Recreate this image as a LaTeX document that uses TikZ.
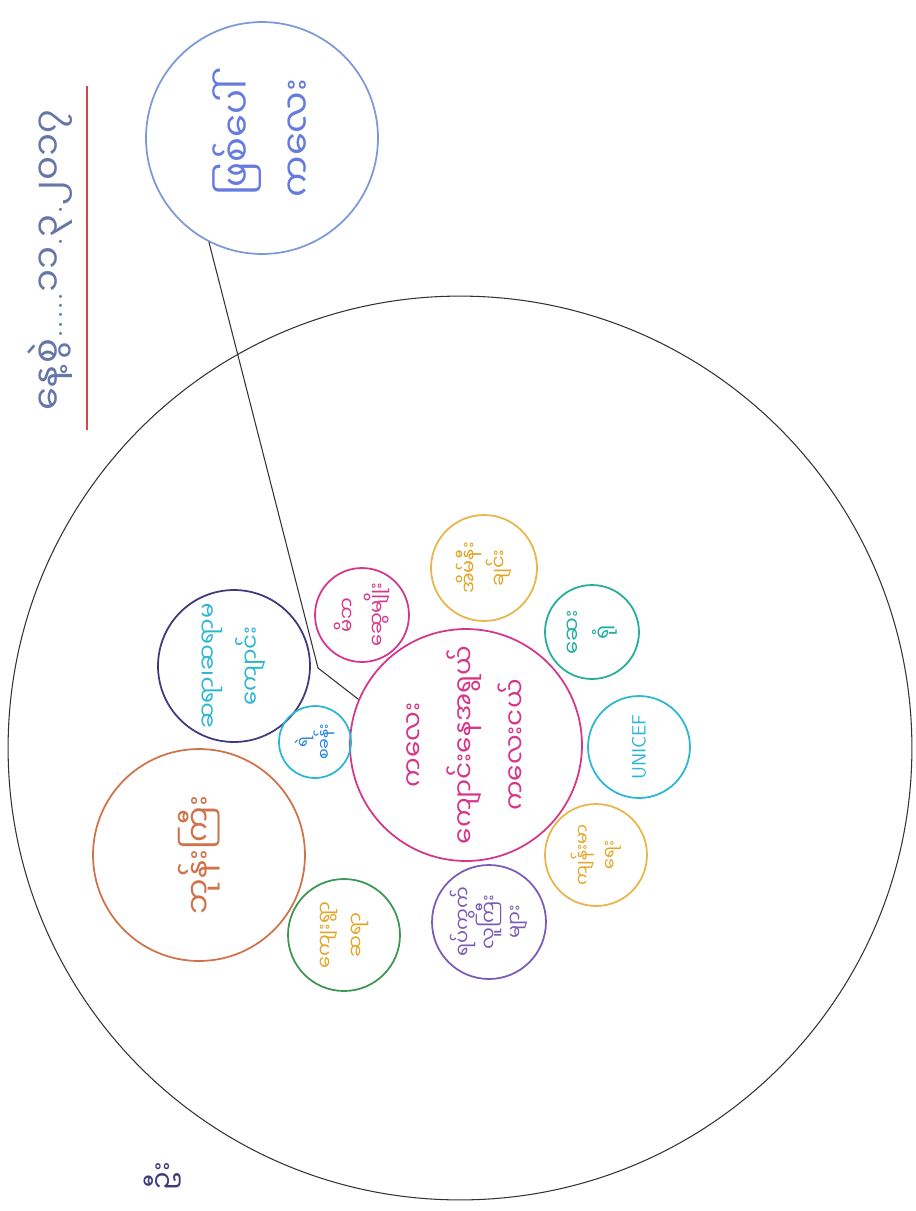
\documentclass[tikz,border=0pt]{standalone}
\usepackage{fontspec}
\newfontfamily\mm[Script=Myanmar]{Noto Sans Myanmar UI}
\usetikzlibrary{positioning}
\definecolor{inkblack}{HTML}{333333}
\definecolor{pinkink}{HTML}{D6368A}
\definecolor{goldring}{HTML}{E8B64A}
\definecolor{goldink}{HTML}{E2A526}
\definecolor{tealink}{HTML}{22AE9C}
\definecolor{cyanink}{HTML}{2DB6D2}
\definecolor{violetink}{HTML}{7A5CB6}
\definecolor{greenink}{HTML}{3D9752}
\definecolor{rustink}{HTML}{D0734A}
\definecolor{navyink}{HTML}{3E3A7C}
\definecolor{skyink}{HTML}{7E9AD6}
\definecolor{headink}{HTML}{6676A6}
\definecolor{redink}{HTML}{D04848}
\newcommand\dotmk{{\rmfamily\color{headink}.}}
\tikzset{
  ring/.style={circle, draw, line width=1pt, inner sep=0pt},
  lbl/.style={rotate=90, align=center, inner sep=1pt, font=\mm\fontsize{#1}{\dimexpr#1pt*4/3\relax}\selectfont},
  lbl/.default=12
}
\begin{document}
\begin{tikzpicture}[x=0.02cm,y=-0.02cm]
\useasboundingbox (0,0) rectangle (916,1211);
% outer circle
\node[ring, draw=inkblack, line width=0.6pt, minimum size=18.08cm] (world) at (460,748) {};
% heading, underlined
\coordinate (ul-top) at (87,86);
\coordinate (ul-end) at (87,430);
\draw[redink, line width=0.8pt] (ul-top) -- (ul-end);
\node[lbl=21, text=headink] (hdr) at (50,260) {နေ့စွဲ\dotmk\dotmk\dotmk\dotmk\dotmk၁၁\dotmk၃\dotmk၂၀၁၇};
% child in the middle
\node[ring, draw=pinkink, minimum size=4.64cm] (child) at (466,745) {};
\node[lbl=15, text=pinkink] (child-t) at (child) {ကလေး\\[9pt]ကျောင်းနေအရွယ်\\[9pt]ကလေးငယ်};
% ring of people round the child
\node[ring, draw=pinkink, minimum size=1.88cm] (kin) at (362,615) {};
\node[lbl=11, text=pinkink] (kin-t) at (kin) {မိဘ\\[2pt]ဆွေမျိုး};
\node[ring, draw=goldring, minimum size=2.12cm] (home) at (484,568) {};
\node[lbl=11, text=goldink] (home-t) at (home) {အိမ်နီး\\[2pt]ချင်း};
\node[ring, draw=tealink, minimum size=1.88cm] (clinic) at (592,632) {};
\node[lbl=12, text=tealink] (clinic-t) at (clinic) {ဆေး\\[2pt]ရုံ};
\node[ring, draw=cyanink, minimum size=2.04cm] (unicef) at (639,747) {};
\node[lbl=11, text=cyanink, font=\sffamily\fontsize{11}{13}\selectfont] (unicef-t) at (unicef) {UNICEF};
\node[ring, draw=goldring, minimum size=2.04cm] (health) at (596,855) {};
\node[lbl=10, text=goldink] (health-t) at (health) {ကျန်းမာ\\[2pt]ရေး};
\node[ring, draw=violetink, minimum size=2.28cm] (ward) at (489,922) {};
\node[lbl=11, text=violetink] (ward-t) at (ward) {ရပ်ကွက်\\လူကြီး\\များ};
\node[ring, draw=greenink, minimum size=2.24cm] (village) at (344,935) {};
\node[lbl=11, text=goldink] (village-t) at (village) {ကျေးရွာ\\[3pt]ဆရာ};
\node[ring, draw=rustink, minimum size=4.24cm] (monk) at (199,855) {};
\node[lbl=18, text=rustink] (monk-t) at (monk) {ဘုန်းကြီး};
\node[ring, draw=navyink, minimum size=3.04cm] (school) at (234,666) {};
\node[lbl=13, text=cyanink] (school-t) at (school) {ဆရာ၊ဆရာမ\\[7pt]ကျောင်း};
\node[ring, draw=cyanink, minimum size=1.44cm] (police) at (315,742) {};
\node[lbl=9, text=cyanink!70!blue] (police-t) at (police) {ရဲ\\စခန်း};
% outside note
\node[ring, draw=skyink, minimum size=4.64cm] (note) at (262,138) {};
\node[lbl=21, text=skyink!80!blue] (note-t) at (note) {ဖြစ်ပေါ်\\[6pt]ကလေး};
\coordinate (bend) at (318,668);
\draw[inkblack, line width=0.6pt] (note.243) -- (bend) -- (child.157);
% corner mark
\node[lbl=16, text=navyink, anchor=east] (mark) at (163,1160) {ဦး};
\end{tikzpicture}
\end{document}
